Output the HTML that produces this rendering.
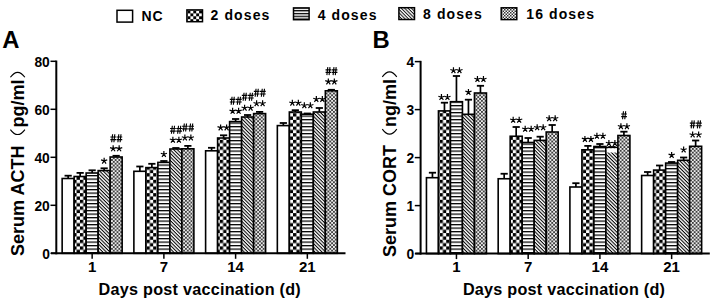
<!DOCTYPE html>
<html><head><meta charset="utf-8"><style>html,body{margin:0;padding:0;background:#fff;}svg{display:block;}</style></head>
<body><svg width="711" height="300" viewBox="0 0 711 300">
<defs><pattern id="pc" patternUnits="userSpaceOnUse" x="0" y="0" width="6.66" height="6.66"><rect width="6.66" height="6.66" fill="#fff"/><rect width="3.33" height="3.33" fill="#000"/><rect x="3.33" y="3.33" width="3.33" height="3.33" fill="#000"/></pattern><pattern id="ph" patternUnits="userSpaceOnUse" x="0" y="0" width="10" height="3.5"><rect width="10" height="3.5" fill="#fff"/><rect width="10" height="1.25" fill="#000"/></pattern><pattern id="pd" patternUnits="userSpaceOnUse" width="2.5" height="2.5" patternTransform="rotate(45)"><rect width="2.5" height="2.5" fill="#fff"/><rect width="2.5" height="1.05" fill="#000"/></pattern><pattern id="pf" patternUnits="userSpaceOnUse" width="3.7" height="3.7"><rect width="3.7" height="3.7" fill="#ececec"/><rect width="1.85" height="1.85" fill="#404040"/><rect x="1.85" y="1.85" width="1.85" height="1.85" fill="#404040"/></pattern><pattern id="lf" patternUnits="userSpaceOnUse" width="3" height="3"><rect width="3" height="3" fill="#fff"/><rect width="1.5" height="1.5" fill="#333"/><rect x="1.5" y="1.5" width="1.5" height="1.5" fill="#333"/></pattern><pattern id="ld" patternUnits="userSpaceOnUse" width="2.4" height="2.4" patternTransform="rotate(45)"><rect width="2.4" height="2.4" fill="#fff"/><rect width="2.4" height="1.0" fill="#111"/></pattern><pattern id="lc" patternUnits="userSpaceOnUse" width="5.8" height="5.8" x="187.5" y="10.5"><rect width="5.8" height="5.8" fill="#fff"/><rect width="2.9" height="2.9" fill="#000"/><rect x="2.9" y="2.9" width="2.9" height="2.9" fill="#000"/></pattern><pattern id="lh" patternUnits="userSpaceOnUse" width="10" height="2.8" y="7.3"><rect width="10" height="2.8" fill="#fff"/><rect width="10" height="1.3" fill="#000"/></pattern></defs>
<rect width="711" height="300" fill="#fff"/>
<text x="2.2" y="48.2" font-size="23.8" font-weight="bold" font-family="'Liberation Sans', sans-serif">A</text>
<line x1="68.15" y1="178.50" x2="68.15" y2="175.70" stroke="#000" stroke-width="1.7"/>
<line x1="64.55" y1="175.70" x2="71.75" y2="175.70" stroke="#000" stroke-width="1.8"/>
<rect x="62.15" y="178.50" width="12.00" height="74.80" fill="#fff" stroke="#000" stroke-width="1.6"/>
<line x1="80.15" y1="176.50" x2="80.15" y2="172.90" stroke="#000" stroke-width="1.7"/>
<line x1="76.55" y1="172.90" x2="83.75" y2="172.90" stroke="#000" stroke-width="1.8"/>
<rect x="74.15" y="176.50" width="12.00" height="76.80" fill="url(#pc)" stroke="#000" stroke-width="1.6"/>
<line x1="92.15" y1="173.00" x2="92.15" y2="170.30" stroke="#000" stroke-width="1.7"/>
<line x1="88.55" y1="170.30" x2="95.75" y2="170.30" stroke="#000" stroke-width="1.8"/>
<rect x="86.15" y="173.00" width="12.00" height="80.30" fill="url(#ph)" stroke="#000" stroke-width="1.6"/>
<line x1="104.15" y1="170.60" x2="104.15" y2="168.30" stroke="#000" stroke-width="1.7"/>
<line x1="100.55" y1="168.30" x2="107.75" y2="168.30" stroke="#000" stroke-width="1.8"/>
<rect x="98.15" y="170.60" width="12.00" height="82.70" fill="url(#pd)" stroke="#000" stroke-width="1.6"/>
<path d="M104.15 160.90L104.15 157.65M104.15 160.90L107.24 159.90M104.15 160.90L106.06 163.53M104.15 160.90L102.24 163.53M104.15 160.90L101.06 159.90" stroke="#000" stroke-width="1.2" stroke-linecap="butt" fill="none"/>
<line x1="116.15" y1="157.00" x2="116.15" y2="155.80" stroke="#000" stroke-width="1.7"/>
<line x1="112.55" y1="155.80" x2="119.75" y2="155.80" stroke="#000" stroke-width="1.8"/>
<rect x="110.15" y="157.00" width="12.00" height="96.30" fill="url(#pf)" stroke="#000" stroke-width="1.6"/>
<path d="M113.15 148.60L113.15 145.35M113.15 148.60L116.24 147.60M113.15 148.60L115.06 151.23M113.15 148.60L111.24 151.23M113.15 148.60L110.06 147.60" stroke="#000" stroke-width="1.2" stroke-linecap="butt" fill="none"/><path d="M119.15 148.60L119.15 145.35M119.15 148.60L122.24 147.60M119.15 148.60L121.06 151.23M119.15 148.60L117.24 151.23M119.15 148.60L116.06 147.60" stroke="#000" stroke-width="1.2" stroke-linecap="butt" fill="none"/>
<path d="M111.70 142.30L112.60 134.30M113.90 142.30L114.80 134.30M110.35 137.00L116.05 137.00M110.35 139.60L116.05 139.60M117.90 142.30L118.80 134.30M120.10 142.30L121.00 134.30M116.55 137.00L122.25 137.00M116.55 139.60L122.25 139.60" stroke="#000" stroke-width="1.15" fill="none"/>
<line x1="139.88" y1="171.30" x2="139.88" y2="166.50" stroke="#000" stroke-width="1.7"/>
<line x1="136.28" y1="166.50" x2="143.48" y2="166.50" stroke="#000" stroke-width="1.8"/>
<rect x="133.88" y="171.30" width="12.00" height="82.00" fill="#fff" stroke="#000" stroke-width="1.6"/>
<line x1="151.88" y1="167.60" x2="151.88" y2="163.80" stroke="#000" stroke-width="1.7"/>
<line x1="148.28" y1="163.80" x2="155.48" y2="163.80" stroke="#000" stroke-width="1.8"/>
<rect x="145.88" y="167.60" width="12.00" height="85.70" fill="url(#pc)" stroke="#000" stroke-width="1.6"/>
<line x1="163.88" y1="162.40" x2="163.88" y2="161.00" stroke="#000" stroke-width="1.7"/>
<line x1="160.28" y1="161.00" x2="167.48" y2="161.00" stroke="#000" stroke-width="1.8"/>
<rect x="157.88" y="162.40" width="12.00" height="90.90" fill="url(#ph)" stroke="#000" stroke-width="1.6"/>
<path d="M163.88 154.30L163.88 151.05M163.88 154.30L166.97 153.30M163.88 154.30L165.79 156.93M163.88 154.30L161.97 156.93M163.88 154.30L160.79 153.30" stroke="#000" stroke-width="1.2" stroke-linecap="butt" fill="none"/>
<line x1="175.88" y1="149.00" x2="175.88" y2="148.00" stroke="#000" stroke-width="1.7"/>
<line x1="172.28" y1="148.00" x2="179.48" y2="148.00" stroke="#000" stroke-width="1.8"/>
<rect x="169.88" y="149.00" width="12.00" height="104.30" fill="url(#pd)" stroke="#000" stroke-width="1.6"/>
<path d="M172.88 140.05L172.88 136.80M172.88 140.05L175.97 139.05M172.88 140.05L174.79 142.68M172.88 140.05L170.97 142.68M172.88 140.05L169.79 139.05" stroke="#000" stroke-width="1.2" stroke-linecap="butt" fill="none"/><path d="M178.88 140.05L178.88 136.80M178.88 140.05L181.97 139.05M178.88 140.05L180.79 142.68M178.88 140.05L176.97 142.68M178.88 140.05L175.79 139.05" stroke="#000" stroke-width="1.2" stroke-linecap="butt" fill="none"/>
<path d="M171.43 133.80L172.33 125.80M173.63 133.80L174.53 125.80M170.08 128.50L175.78 128.50M170.08 131.10L175.78 131.10M177.63 133.80L178.53 125.80M179.83 133.80L180.73 125.80M176.28 128.50L181.98 128.50M176.28 131.10L181.98 131.10" stroke="#000" stroke-width="1.15" fill="none"/>
<line x1="187.88" y1="148.80" x2="187.88" y2="145.90" stroke="#000" stroke-width="1.7"/>
<line x1="184.28" y1="145.90" x2="191.48" y2="145.90" stroke="#000" stroke-width="1.8"/>
<rect x="181.88" y="148.80" width="12.00" height="104.50" fill="url(#pf)" stroke="#000" stroke-width="1.6"/>
<path d="M184.88 137.80L184.88 134.55M184.88 137.80L187.97 136.80M184.88 137.80L186.79 140.43M184.88 137.80L182.97 140.43M184.88 137.80L181.79 136.80" stroke="#000" stroke-width="1.2" stroke-linecap="butt" fill="none"/><path d="M190.88 137.80L190.88 134.55M190.88 137.80L193.97 136.80M190.88 137.80L192.79 140.43M190.88 137.80L188.97 140.43M190.88 137.80L187.79 136.80" stroke="#000" stroke-width="1.2" stroke-linecap="butt" fill="none"/>
<path d="M183.43 131.50L184.33 123.50M185.63 131.50L186.53 123.50M182.08 126.20L187.78 126.20M182.08 128.80L187.78 128.80M189.63 131.50L190.53 123.50M191.83 131.50L192.73 123.50M188.28 126.20L193.98 126.20M188.28 128.80L193.98 128.80" stroke="#000" stroke-width="1.15" fill="none"/>
<line x1="211.61" y1="150.80" x2="211.61" y2="147.80" stroke="#000" stroke-width="1.7"/>
<line x1="208.01" y1="147.80" x2="215.21" y2="147.80" stroke="#000" stroke-width="1.8"/>
<rect x="205.61" y="150.80" width="12.00" height="102.50" fill="#fff" stroke="#000" stroke-width="1.6"/>
<line x1="223.61" y1="138.00" x2="223.61" y2="135.30" stroke="#000" stroke-width="1.7"/>
<line x1="220.01" y1="135.30" x2="227.21" y2="135.30" stroke="#000" stroke-width="1.8"/>
<rect x="217.61" y="138.00" width="12.00" height="115.30" fill="url(#pc)" stroke="#000" stroke-width="1.6"/>
<path d="M220.61 127.65L220.61 124.40M220.61 127.65L223.70 126.65M220.61 127.65L222.52 130.28M220.61 127.65L218.70 130.28M220.61 127.65L217.52 126.65" stroke="#000" stroke-width="1.2" stroke-linecap="butt" fill="none"/><path d="M226.61 127.65L226.61 124.40M226.61 127.65L229.70 126.65M226.61 127.65L228.52 130.28M226.61 127.65L224.70 130.28M226.61 127.65L223.52 126.65" stroke="#000" stroke-width="1.2" stroke-linecap="butt" fill="none"/>
<line x1="235.61" y1="121.60" x2="235.61" y2="119.00" stroke="#000" stroke-width="1.7"/>
<line x1="232.01" y1="119.00" x2="239.21" y2="119.00" stroke="#000" stroke-width="1.8"/>
<rect x="229.61" y="121.60" width="12.00" height="131.70" fill="url(#ph)" stroke="#000" stroke-width="1.6"/>
<path d="M232.61 111.10L232.61 107.85M232.61 111.10L235.70 110.10M232.61 111.10L234.52 113.73M232.61 111.10L230.70 113.73M232.61 111.10L229.52 110.10" stroke="#000" stroke-width="1.2" stroke-linecap="butt" fill="none"/><path d="M238.61 111.10L238.61 107.85M238.61 111.10L241.70 110.10M238.61 111.10L240.52 113.73M238.61 111.10L236.70 113.73M238.61 111.10L235.52 110.10" stroke="#000" stroke-width="1.2" stroke-linecap="butt" fill="none"/>
<path d="M231.16 104.70L232.06 96.70M233.36 104.70L234.26 96.70M229.81 99.40L235.51 99.40M229.81 102.00L235.51 102.00M237.36 104.70L238.26 96.70M239.56 104.70L240.46 96.70M236.01 99.40L241.71 99.40M236.01 102.00L241.71 102.00" stroke="#000" stroke-width="1.15" fill="none"/>
<line x1="247.61" y1="117.00" x2="247.61" y2="115.00" stroke="#000" stroke-width="1.7"/>
<line x1="244.01" y1="115.00" x2="251.21" y2="115.00" stroke="#000" stroke-width="1.8"/>
<rect x="241.61" y="117.00" width="12.00" height="136.30" fill="url(#pd)" stroke="#000" stroke-width="1.6"/>
<path d="M244.61 107.95L244.61 104.70M244.61 107.95L247.70 106.95M244.61 107.95L246.52 110.58M244.61 107.95L242.70 110.58M244.61 107.95L241.52 106.95" stroke="#000" stroke-width="1.2" stroke-linecap="butt" fill="none"/><path d="M250.61 107.95L250.61 104.70M250.61 107.95L253.70 106.95M250.61 107.95L252.52 110.58M250.61 107.95L248.70 110.58M250.61 107.95L247.52 106.95" stroke="#000" stroke-width="1.2" stroke-linecap="butt" fill="none"/>
<path d="M243.16 100.70L244.06 92.70M245.36 100.70L246.26 92.70M241.81 95.40L247.51 95.40M241.81 98.00L247.51 98.00M249.36 100.70L250.26 92.70M251.56 100.70L252.46 92.70M248.01 95.40L253.71 95.40M248.01 98.00L253.71 98.00" stroke="#000" stroke-width="1.15" fill="none"/>
<line x1="259.61" y1="113.60" x2="259.61" y2="111.90" stroke="#000" stroke-width="1.7"/>
<line x1="256.01" y1="111.90" x2="263.21" y2="111.90" stroke="#000" stroke-width="1.8"/>
<rect x="253.61" y="113.60" width="12.00" height="139.70" fill="url(#pf)" stroke="#000" stroke-width="1.6"/>
<path d="M256.61 103.50L256.61 100.25M256.61 103.50L259.70 102.50M256.61 103.50L258.52 106.13M256.61 103.50L254.70 106.13M256.61 103.50L253.52 102.50" stroke="#000" stroke-width="1.2" stroke-linecap="butt" fill="none"/><path d="M262.61 103.50L262.61 100.25M262.61 103.50L265.70 102.50M262.61 103.50L264.52 106.13M262.61 103.50L260.70 106.13M262.61 103.50L259.52 102.50" stroke="#000" stroke-width="1.2" stroke-linecap="butt" fill="none"/>
<path d="M255.16 96.70L256.06 88.70M257.36 96.70L258.26 88.70M253.81 91.40L259.51 91.40M253.81 94.00L259.51 94.00M261.36 96.70L262.26 88.70M263.56 96.70L264.46 88.70M260.01 91.40L265.71 91.40M260.01 94.00L265.71 94.00" stroke="#000" stroke-width="1.15" fill="none"/>
<line x1="283.34" y1="125.60" x2="283.34" y2="123.00" stroke="#000" stroke-width="1.7"/>
<line x1="279.74" y1="123.00" x2="286.94" y2="123.00" stroke="#000" stroke-width="1.8"/>
<rect x="277.34" y="125.60" width="12.00" height="127.70" fill="#fff" stroke="#000" stroke-width="1.6"/>
<line x1="295.34" y1="112.00" x2="295.34" y2="110.20" stroke="#000" stroke-width="1.7"/>
<line x1="291.74" y1="110.20" x2="298.94" y2="110.20" stroke="#000" stroke-width="1.8"/>
<rect x="289.34" y="112.00" width="12.00" height="141.30" fill="url(#pc)" stroke="#000" stroke-width="1.6"/>
<path d="M292.34 102.95L292.34 99.70M292.34 102.95L295.43 101.95M292.34 102.95L294.25 105.58M292.34 102.95L290.43 105.58M292.34 102.95L289.25 101.95" stroke="#000" stroke-width="1.2" stroke-linecap="butt" fill="none"/><path d="M298.34 102.95L298.34 99.70M298.34 102.95L301.43 101.95M298.34 102.95L300.25 105.58M298.34 102.95L296.43 105.58M298.34 102.95L295.25 101.95" stroke="#000" stroke-width="1.2" stroke-linecap="butt" fill="none"/>
<line x1="307.34" y1="114.20" x2="307.34" y2="113.50" stroke="#000" stroke-width="1.7"/>
<line x1="303.74" y1="113.50" x2="310.94" y2="113.50" stroke="#000" stroke-width="1.8"/>
<rect x="301.34" y="114.20" width="12.00" height="139.10" fill="url(#ph)" stroke="#000" stroke-width="1.6"/>
<path d="M304.34 105.55L304.34 102.30M304.34 105.55L307.43 104.55M304.34 105.55L306.25 108.18M304.34 105.55L302.43 108.18M304.34 105.55L301.25 104.55" stroke="#000" stroke-width="1.2" stroke-linecap="butt" fill="none"/><path d="M310.34 105.55L310.34 102.30M310.34 105.55L313.43 104.55M310.34 105.55L312.25 108.18M310.34 105.55L308.43 108.18M310.34 105.55L307.25 104.55" stroke="#000" stroke-width="1.2" stroke-linecap="butt" fill="none"/>
<line x1="319.34" y1="112.00" x2="319.34" y2="108.00" stroke="#000" stroke-width="1.7"/>
<line x1="315.74" y1="108.00" x2="322.94" y2="108.00" stroke="#000" stroke-width="1.8"/>
<rect x="313.34" y="112.00" width="12.00" height="141.30" fill="url(#pd)" stroke="#000" stroke-width="1.6"/>
<path d="M316.34 99.20L316.34 95.95M316.34 99.20L319.43 98.20M316.34 99.20L318.25 101.83M316.34 99.20L314.43 101.83M316.34 99.20L313.25 98.20" stroke="#000" stroke-width="1.2" stroke-linecap="butt" fill="none"/><path d="M322.34 99.20L322.34 95.95M322.34 99.20L325.43 98.20M322.34 99.20L324.25 101.83M322.34 99.20L320.43 101.83M322.34 99.20L319.25 98.20" stroke="#000" stroke-width="1.2" stroke-linecap="butt" fill="none"/>
<line x1="331.34" y1="90.80" x2="331.34" y2="89.80" stroke="#000" stroke-width="1.7"/>
<line x1="327.74" y1="89.80" x2="334.94" y2="89.80" stroke="#000" stroke-width="1.8"/>
<rect x="325.34" y="90.80" width="12.00" height="162.50" fill="url(#pf)" stroke="#000" stroke-width="1.6"/>
<path d="M328.34 81.65L328.34 78.40M328.34 81.65L331.43 80.65M328.34 81.65L330.25 84.28M328.34 81.65L326.43 84.28M328.34 81.65L325.25 80.65" stroke="#000" stroke-width="1.2" stroke-linecap="butt" fill="none"/><path d="M334.34 81.65L334.34 78.40M334.34 81.65L337.43 80.65M334.34 81.65L336.25 84.28M334.34 81.65L332.43 84.28M334.34 81.65L331.25 80.65" stroke="#000" stroke-width="1.2" stroke-linecap="butt" fill="none"/>
<path d="M326.89 75.10L327.79 67.10M329.09 75.10L329.99 67.10M325.54 69.80L331.24 69.80M325.54 72.40L331.24 72.40M333.09 75.10L333.99 67.10M335.29 75.10L336.19 67.10M331.74 69.80L337.44 69.80M331.74 72.40L337.44 72.40" stroke="#000" stroke-width="1.15" fill="none"/>
<line x1="56.30" y1="60.55" x2="56.30" y2="254.30" stroke="#000" stroke-width="2"/>
<line x1="51.00" y1="253.30" x2="345.50" y2="253.30" stroke="#000" stroke-width="2"/>
<line x1="50.50" y1="253.30" x2="56.30" y2="253.30" stroke="#000" stroke-width="1.5"/>
<text transform="translate(49.80,258.60) scale(0.92,1)" x="0" y="0" font-size="15" font-weight="bold" text-anchor="end" font-family="'Liberation Sans', sans-serif">0</text>
<line x1="50.50" y1="205.30" x2="56.30" y2="205.30" stroke="#000" stroke-width="1.5"/>
<text transform="translate(49.80,210.60) scale(0.92,1)" x="0" y="0" font-size="15" font-weight="bold" text-anchor="end" font-family="'Liberation Sans', sans-serif">20</text>
<line x1="50.50" y1="157.30" x2="56.30" y2="157.30" stroke="#000" stroke-width="1.5"/>
<text transform="translate(49.80,162.60) scale(0.92,1)" x="0" y="0" font-size="15" font-weight="bold" text-anchor="end" font-family="'Liberation Sans', sans-serif">40</text>
<line x1="50.50" y1="109.30" x2="56.30" y2="109.30" stroke="#000" stroke-width="1.5"/>
<text transform="translate(49.80,114.60) scale(0.92,1)" x="0" y="0" font-size="15" font-weight="bold" text-anchor="end" font-family="'Liberation Sans', sans-serif">60</text>
<line x1="50.50" y1="61.30" x2="56.30" y2="61.30" stroke="#000" stroke-width="1.5"/>
<text transform="translate(49.80,66.60) scale(0.92,1)" x="0" y="0" font-size="15" font-weight="bold" text-anchor="end" font-family="'Liberation Sans', sans-serif">80</text>
<line x1="92.15" y1="253.30" x2="92.15" y2="258.80" stroke="#000" stroke-width="1.5"/>
<text x="92.15" y="272.4" font-size="15" font-weight="bold" text-anchor="middle" font-family="'Liberation Sans', sans-serif">1</text>
<line x1="163.88" y1="253.30" x2="163.88" y2="258.80" stroke="#000" stroke-width="1.5"/>
<text x="163.88" y="272.4" font-size="15" font-weight="bold" text-anchor="middle" font-family="'Liberation Sans', sans-serif">7</text>
<line x1="235.61" y1="253.30" x2="235.61" y2="258.80" stroke="#000" stroke-width="1.5"/>
<text x="235.61" y="272.4" font-size="15" font-weight="bold" text-anchor="middle" font-family="'Liberation Sans', sans-serif">14</text>
<line x1="307.34" y1="253.30" x2="307.34" y2="258.80" stroke="#000" stroke-width="1.5"/>
<text x="307.34" y="272.4" font-size="15" font-weight="bold" text-anchor="middle" font-family="'Liberation Sans', sans-serif">21</text>
<text x="98.60" y="295" font-size="16.2" letter-spacing="0.25" font-weight="bold" font-family="'Liberation Sans', sans-serif">Days post vaccination (d)</text>
<g transform="translate(24.40,255.90) rotate(-90)">
<text x="0" y="0" font-size="18" font-weight="bold" font-family="'Liberation Sans', sans-serif">Serum ACTH</text>
<path d="M126.34 -14 Q116.34 -6.75 126.34 0.5" stroke="#000" stroke-width="1.1" fill="none"/>
<text x="128.34" y="0" font-size="18" font-weight="bold" font-family="'Liberation Sans', sans-serif">pg/ml</text>
<path d="M178.64 -14 Q188.44 -6.75 178.64 0.5" stroke="#000" stroke-width="1.1" fill="none"/>
</g>
<text x="372.4" y="48.2" font-size="23.8" font-weight="bold" font-family="'Liberation Sans', sans-serif">B</text>
<line x1="432.45" y1="177.70" x2="432.45" y2="172.70" stroke="#000" stroke-width="1.7"/>
<line x1="428.85" y1="172.70" x2="436.05" y2="172.70" stroke="#000" stroke-width="1.8"/>
<rect x="426.45" y="177.70" width="12.00" height="75.90" fill="#fff" stroke="#000" stroke-width="1.6"/>
<line x1="444.45" y1="110.90" x2="444.45" y2="102.70" stroke="#000" stroke-width="1.7"/>
<line x1="440.85" y1="102.70" x2="448.05" y2="102.70" stroke="#000" stroke-width="1.8"/>
<rect x="438.45" y="110.90" width="12.00" height="142.70" fill="url(#pc)" stroke="#000" stroke-width="1.6"/>
<path d="M441.45 97.25L441.45 94.00M441.45 97.25L444.54 96.25M441.45 97.25L443.36 99.88M441.45 97.25L439.54 99.88M441.45 97.25L438.36 96.25" stroke="#000" stroke-width="1.2" stroke-linecap="butt" fill="none"/><path d="M447.45 97.25L447.45 94.00M447.45 97.25L450.54 96.25M447.45 97.25L449.36 99.88M447.45 97.25L445.54 99.88M447.45 97.25L444.36 96.25" stroke="#000" stroke-width="1.2" stroke-linecap="butt" fill="none"/>
<line x1="456.45" y1="101.70" x2="456.45" y2="76.00" stroke="#000" stroke-width="1.7"/>
<line x1="452.85" y1="76.00" x2="460.05" y2="76.00" stroke="#000" stroke-width="1.8"/>
<rect x="450.45" y="101.70" width="12.00" height="151.90" fill="url(#ph)" stroke="#000" stroke-width="1.6"/>
<path d="M453.45 70.45L453.45 67.20M453.45 70.45L456.54 69.45M453.45 70.45L455.36 73.08M453.45 70.45L451.54 73.08M453.45 70.45L450.36 69.45" stroke="#000" stroke-width="1.2" stroke-linecap="butt" fill="none"/><path d="M459.45 70.45L459.45 67.20M459.45 70.45L462.54 69.45M459.45 70.45L461.36 73.08M459.45 70.45L457.54 73.08M459.45 70.45L456.36 69.45" stroke="#000" stroke-width="1.2" stroke-linecap="butt" fill="none"/>
<line x1="468.45" y1="114.30" x2="468.45" y2="99.70" stroke="#000" stroke-width="1.7"/>
<line x1="464.85" y1="99.70" x2="472.05" y2="99.70" stroke="#000" stroke-width="1.8"/>
<rect x="462.45" y="114.30" width="12.00" height="139.30" fill="url(#pd)" stroke="#000" stroke-width="1.6"/>
<path d="M468.45 92.15L468.45 88.90M468.45 92.15L471.54 91.15M468.45 92.15L470.36 94.78M468.45 92.15L466.54 94.78M468.45 92.15L465.36 91.15" stroke="#000" stroke-width="1.2" stroke-linecap="butt" fill="none"/>
<line x1="480.45" y1="93.00" x2="480.45" y2="85.80" stroke="#000" stroke-width="1.7"/>
<line x1="476.85" y1="85.80" x2="484.05" y2="85.80" stroke="#000" stroke-width="1.8"/>
<rect x="474.45" y="93.00" width="12.00" height="160.60" fill="url(#pf)" stroke="#000" stroke-width="1.6"/>
<path d="M477.45 79.20L477.45 75.95M477.45 79.20L480.54 78.20M477.45 79.20L479.36 81.83M477.45 79.20L475.54 81.83M477.45 79.20L474.36 78.20" stroke="#000" stroke-width="1.2" stroke-linecap="butt" fill="none"/><path d="M483.45 79.20L483.45 75.95M483.45 79.20L486.54 78.20M483.45 79.20L485.36 81.83M483.45 79.20L481.54 81.83M483.45 79.20L480.36 78.20" stroke="#000" stroke-width="1.2" stroke-linecap="butt" fill="none"/>
<line x1="504.18" y1="178.75" x2="504.18" y2="173.75" stroke="#000" stroke-width="1.7"/>
<line x1="500.58" y1="173.75" x2="507.78" y2="173.75" stroke="#000" stroke-width="1.8"/>
<rect x="498.18" y="178.75" width="12.00" height="74.85" fill="#fff" stroke="#000" stroke-width="1.6"/>
<line x1="516.18" y1="136.25" x2="516.18" y2="127.00" stroke="#000" stroke-width="1.7"/>
<line x1="512.58" y1="127.00" x2="519.78" y2="127.00" stroke="#000" stroke-width="1.8"/>
<rect x="510.18" y="136.25" width="12.00" height="117.35" fill="url(#pc)" stroke="#000" stroke-width="1.6"/>
<path d="M513.18 120.05L513.18 116.80M513.18 120.05L516.27 119.05M513.18 120.05L515.09 122.68M513.18 120.05L511.27 122.68M513.18 120.05L510.09 119.05" stroke="#000" stroke-width="1.2" stroke-linecap="butt" fill="none"/><path d="M519.18 120.05L519.18 116.80M519.18 120.05L522.27 119.05M519.18 120.05L521.09 122.68M519.18 120.05L517.27 122.68M519.18 120.05L516.09 119.05" stroke="#000" stroke-width="1.2" stroke-linecap="butt" fill="none"/>
<line x1="528.18" y1="142.50" x2="528.18" y2="138.00" stroke="#000" stroke-width="1.7"/>
<line x1="524.58" y1="138.00" x2="531.78" y2="138.00" stroke="#000" stroke-width="1.8"/>
<rect x="522.18" y="142.50" width="12.00" height="111.10" fill="url(#ph)" stroke="#000" stroke-width="1.6"/>
<path d="M525.18 129.05L525.18 125.80M525.18 129.05L528.27 128.05M525.18 129.05L527.09 131.68M525.18 129.05L523.27 131.68M525.18 129.05L522.09 128.05" stroke="#000" stroke-width="1.2" stroke-linecap="butt" fill="none"/><path d="M531.18 129.05L531.18 125.80M531.18 129.05L534.27 128.05M531.18 129.05L533.09 131.68M531.18 129.05L529.27 131.68M531.18 129.05L528.09 128.05" stroke="#000" stroke-width="1.2" stroke-linecap="butt" fill="none"/>
<line x1="540.18" y1="140.40" x2="540.18" y2="136.70" stroke="#000" stroke-width="1.7"/>
<line x1="536.58" y1="136.70" x2="543.78" y2="136.70" stroke="#000" stroke-width="1.8"/>
<rect x="534.18" y="140.40" width="12.00" height="113.20" fill="url(#pd)" stroke="#000" stroke-width="1.6"/>
<path d="M537.18 127.55L537.18 124.30M537.18 127.55L540.27 126.55M537.18 127.55L539.09 130.18M537.18 127.55L535.27 130.18M537.18 127.55L534.09 126.55" stroke="#000" stroke-width="1.2" stroke-linecap="butt" fill="none"/><path d="M543.18 127.55L543.18 124.30M543.18 127.55L546.27 126.55M543.18 127.55L545.09 130.18M543.18 127.55L541.27 130.18M543.18 127.55L540.09 126.55" stroke="#000" stroke-width="1.2" stroke-linecap="butt" fill="none"/>
<line x1="552.18" y1="132.00" x2="552.18" y2="125.00" stroke="#000" stroke-width="1.7"/>
<line x1="548.58" y1="125.00" x2="555.78" y2="125.00" stroke="#000" stroke-width="1.8"/>
<rect x="546.18" y="132.00" width="12.00" height="121.60" fill="url(#pf)" stroke="#000" stroke-width="1.6"/>
<path d="M549.18 118.55L549.18 115.30M549.18 118.55L552.27 117.55M549.18 118.55L551.09 121.18M549.18 118.55L547.27 121.18M549.18 118.55L546.09 117.55" stroke="#000" stroke-width="1.2" stroke-linecap="butt" fill="none"/><path d="M555.18 118.55L555.18 115.30M555.18 118.55L558.27 117.55M555.18 118.55L557.09 121.18M555.18 118.55L553.27 121.18M555.18 118.55L552.09 117.55" stroke="#000" stroke-width="1.2" stroke-linecap="butt" fill="none"/>
<line x1="575.91" y1="187.00" x2="575.91" y2="183.20" stroke="#000" stroke-width="1.7"/>
<line x1="572.31" y1="183.20" x2="579.51" y2="183.20" stroke="#000" stroke-width="1.8"/>
<rect x="569.91" y="187.00" width="12.00" height="66.60" fill="#fff" stroke="#000" stroke-width="1.6"/>
<line x1="587.91" y1="149.80" x2="587.91" y2="145.90" stroke="#000" stroke-width="1.7"/>
<line x1="584.31" y1="145.90" x2="591.51" y2="145.90" stroke="#000" stroke-width="1.8"/>
<rect x="581.91" y="149.80" width="12.00" height="103.80" fill="url(#pc)" stroke="#000" stroke-width="1.6"/>
<path d="M584.91 139.15L584.91 135.90M584.91 139.15L588.00 138.15M584.91 139.15L586.82 141.78M584.91 139.15L583.00 141.78M584.91 139.15L581.82 138.15" stroke="#000" stroke-width="1.2" stroke-linecap="butt" fill="none"/><path d="M590.91 139.15L590.91 135.90M590.91 139.15L594.00 138.15M590.91 139.15L592.82 141.78M590.91 139.15L589.00 141.78M590.91 139.15L587.82 138.15" stroke="#000" stroke-width="1.2" stroke-linecap="butt" fill="none"/>
<line x1="599.91" y1="146.50" x2="599.91" y2="144.00" stroke="#000" stroke-width="1.7"/>
<line x1="596.31" y1="144.00" x2="603.51" y2="144.00" stroke="#000" stroke-width="1.8"/>
<rect x="593.91" y="146.50" width="12.00" height="107.10" fill="url(#ph)" stroke="#000" stroke-width="1.6"/>
<path d="M596.91 136.05L596.91 132.80M596.91 136.05L600.00 135.05M596.91 136.05L598.82 138.68M596.91 136.05L595.00 138.68M596.91 136.05L593.82 135.05" stroke="#000" stroke-width="1.2" stroke-linecap="butt" fill="none"/><path d="M602.91 136.05L602.91 132.80M602.91 136.05L606.00 135.05M602.91 136.05L604.82 138.68M602.91 136.05L601.00 138.68M602.91 136.05L599.82 135.05" stroke="#000" stroke-width="1.2" stroke-linecap="butt" fill="none"/>
<line x1="611.91" y1="147.50" x2="611.91" y2="147.00" stroke="#000" stroke-width="1.7"/>
<line x1="608.31" y1="147.00" x2="615.51" y2="147.00" stroke="#000" stroke-width="1.8"/>
<rect x="605.91" y="147.50" width="12.00" height="106.10" fill="url(#pd)" stroke="#000" stroke-width="1.6"/>
<rect x="606.71" y="148.30" width="10.40" height="4.20" fill="#fff"/>
<path d="M608.91 143.30L608.91 140.05M608.91 143.30L612.00 142.30M608.91 143.30L610.82 145.93M608.91 143.30L607.00 145.93M608.91 143.30L605.82 142.30" stroke="#000" stroke-width="1.2" stroke-linecap="butt" fill="none"/><path d="M614.91 143.30L614.91 140.05M614.91 143.30L618.00 142.30M614.91 143.30L616.82 145.93M614.91 143.30L613.00 145.93M614.91 143.30L611.82 142.30" stroke="#000" stroke-width="1.2" stroke-linecap="butt" fill="none"/>
<line x1="623.91" y1="135.50" x2="623.91" y2="131.70" stroke="#000" stroke-width="1.7"/>
<line x1="620.31" y1="131.70" x2="627.51" y2="131.70" stroke="#000" stroke-width="1.8"/>
<rect x="617.91" y="135.50" width="12.00" height="118.10" fill="url(#pf)" stroke="#000" stroke-width="1.6"/>
<path d="M620.91 126.45L620.91 123.20M620.91 126.45L624.00 125.45M620.91 126.45L622.82 129.08M620.91 126.45L619.00 129.08M620.91 126.45L617.82 125.45" stroke="#000" stroke-width="1.2" stroke-linecap="butt" fill="none"/><path d="M626.91 126.45L626.91 123.20M626.91 126.45L630.00 125.45M626.91 126.45L628.82 129.08M626.91 126.45L625.00 129.08M626.91 126.45L623.82 125.45" stroke="#000" stroke-width="1.2" stroke-linecap="butt" fill="none"/>
<path d="M622.56 119.30L623.46 111.30M624.76 119.30L625.66 111.30M621.21 114.00L626.91 114.00M621.21 116.60L626.91 116.60" stroke="#000" stroke-width="1.15" fill="none"/>
<line x1="647.64" y1="175.50" x2="647.64" y2="172.00" stroke="#000" stroke-width="1.7"/>
<line x1="644.04" y1="172.00" x2="651.24" y2="172.00" stroke="#000" stroke-width="1.8"/>
<rect x="641.64" y="175.50" width="12.00" height="78.10" fill="#fff" stroke="#000" stroke-width="1.6"/>
<line x1="659.64" y1="170.10" x2="659.64" y2="165.50" stroke="#000" stroke-width="1.7"/>
<line x1="656.04" y1="165.50" x2="663.24" y2="165.50" stroke="#000" stroke-width="1.8"/>
<rect x="653.64" y="170.10" width="12.00" height="83.50" fill="url(#pc)" stroke="#000" stroke-width="1.6"/>
<line x1="671.64" y1="163.10" x2="671.64" y2="162.00" stroke="#000" stroke-width="1.7"/>
<line x1="668.04" y1="162.00" x2="675.24" y2="162.00" stroke="#000" stroke-width="1.8"/>
<rect x="665.64" y="163.10" width="12.00" height="90.50" fill="url(#ph)" stroke="#000" stroke-width="1.6"/>
<path d="M671.64 155.15L671.64 151.90M671.64 155.15L674.73 154.15M671.64 155.15L673.55 157.78M671.64 155.15L669.73 157.78M671.64 155.15L668.55 154.15" stroke="#000" stroke-width="1.2" stroke-linecap="butt" fill="none"/>
<line x1="683.64" y1="160.30" x2="683.64" y2="157.50" stroke="#000" stroke-width="1.7"/>
<line x1="680.04" y1="157.50" x2="687.24" y2="157.50" stroke="#000" stroke-width="1.8"/>
<rect x="677.64" y="160.30" width="12.00" height="93.30" fill="url(#pd)" stroke="#000" stroke-width="1.6"/>
<path d="M683.64 149.80L683.64 146.55M683.64 149.80L686.73 148.80M683.64 149.80L685.55 152.43M683.64 149.80L681.73 152.43M683.64 149.80L680.55 148.80" stroke="#000" stroke-width="1.2" stroke-linecap="butt" fill="none"/>
<line x1="695.64" y1="146.30" x2="695.64" y2="140.50" stroke="#000" stroke-width="1.7"/>
<line x1="692.04" y1="140.50" x2="699.24" y2="140.50" stroke="#000" stroke-width="1.8"/>
<rect x="689.64" y="146.30" width="12.00" height="107.30" fill="url(#pf)" stroke="#000" stroke-width="1.6"/>
<path d="M692.64 134.75L692.64 131.50M692.64 134.75L695.73 133.75M692.64 134.75L694.55 137.38M692.64 134.75L690.73 137.38M692.64 134.75L689.55 133.75" stroke="#000" stroke-width="1.2" stroke-linecap="butt" fill="none"/><path d="M698.64 134.75L698.64 131.50M698.64 134.75L701.73 133.75M698.64 134.75L700.55 137.38M698.64 134.75L696.73 137.38M698.64 134.75L695.55 133.75" stroke="#000" stroke-width="1.2" stroke-linecap="butt" fill="none"/>
<path d="M691.19 128.40L692.09 120.40M693.39 128.40L694.29 120.40M689.84 123.10L695.54 123.10M689.84 125.70L695.54 125.70M697.39 128.40L698.29 120.40M699.59 128.40L700.49 120.40M696.04 123.10L701.74 123.10M696.04 125.70L701.74 125.70" stroke="#000" stroke-width="1.15" fill="none"/>
<line x1="420.60" y1="60.85" x2="420.60" y2="254.60" stroke="#000" stroke-width="2"/>
<line x1="415.30" y1="253.60" x2="709.80" y2="253.60" stroke="#000" stroke-width="2"/>
<line x1="414.80" y1="253.60" x2="420.60" y2="253.60" stroke="#000" stroke-width="1.5"/>
<text transform="translate(414.10,258.90) scale(0.92,1)" x="0" y="0" font-size="15" font-weight="bold" text-anchor="end" font-family="'Liberation Sans', sans-serif">0</text>
<line x1="414.80" y1="205.60" x2="420.60" y2="205.60" stroke="#000" stroke-width="1.5"/>
<text transform="translate(414.10,210.90) scale(0.92,1)" x="0" y="0" font-size="15" font-weight="bold" text-anchor="end" font-family="'Liberation Sans', sans-serif">1</text>
<line x1="414.80" y1="157.60" x2="420.60" y2="157.60" stroke="#000" stroke-width="1.5"/>
<text transform="translate(414.10,162.90) scale(0.92,1)" x="0" y="0" font-size="15" font-weight="bold" text-anchor="end" font-family="'Liberation Sans', sans-serif">2</text>
<line x1="414.80" y1="109.60" x2="420.60" y2="109.60" stroke="#000" stroke-width="1.5"/>
<text transform="translate(414.10,114.90) scale(0.92,1)" x="0" y="0" font-size="15" font-weight="bold" text-anchor="end" font-family="'Liberation Sans', sans-serif">3</text>
<line x1="414.80" y1="61.60" x2="420.60" y2="61.60" stroke="#000" stroke-width="1.5"/>
<text transform="translate(414.10,66.90) scale(0.92,1)" x="0" y="0" font-size="15" font-weight="bold" text-anchor="end" font-family="'Liberation Sans', sans-serif">4</text>
<line x1="456.45" y1="253.60" x2="456.45" y2="259.10" stroke="#000" stroke-width="1.5"/>
<text x="456.45" y="272.4" font-size="15" font-weight="bold" text-anchor="middle" font-family="'Liberation Sans', sans-serif">1</text>
<line x1="528.18" y1="253.60" x2="528.18" y2="259.10" stroke="#000" stroke-width="1.5"/>
<text x="528.18" y="272.4" font-size="15" font-weight="bold" text-anchor="middle" font-family="'Liberation Sans', sans-serif">7</text>
<line x1="599.91" y1="253.60" x2="599.91" y2="259.10" stroke="#000" stroke-width="1.5"/>
<text x="599.91" y="272.4" font-size="15" font-weight="bold" text-anchor="middle" font-family="'Liberation Sans', sans-serif">14</text>
<line x1="671.64" y1="253.60" x2="671.64" y2="259.10" stroke="#000" stroke-width="1.5"/>
<text x="671.64" y="272.4" font-size="15" font-weight="bold" text-anchor="middle" font-family="'Liberation Sans', sans-serif">21</text>
<text x="462.90" y="295" font-size="16.2" letter-spacing="0.25" font-weight="bold" font-family="'Liberation Sans', sans-serif">Days post vaccination (d)</text>
<g transform="translate(396.30,257.10) rotate(-90)">
<text x="0" y="0" font-size="18" font-weight="bold" font-family="'Liberation Sans', sans-serif">Serum CORT</text>
<path d="M128.00 -14 Q118.00 -6.75 128.00 0.5" stroke="#000" stroke-width="1.1" fill="none"/>
<text x="130.00" y="0" font-size="18" font-weight="bold" font-family="'Liberation Sans', sans-serif">ng/ml</text>
<path d="M180.30 -14 Q190.10 -6.75 180.30 0.5" stroke="#000" stroke-width="1.1" fill="none"/>
</g>
<rect x="117.00" y="10.30" width="15.6" height="11.8" fill="#fff" stroke="#000" stroke-width="1.5"/>
<text x="141.40" y="20.80" font-size="14" letter-spacing="1.1" font-weight="bold" font-family="'Liberation Sans', sans-serif">NC</text>
<rect x="186.90" y="9.90" width="15.6" height="11.8" fill="url(#lc)" stroke="#000" stroke-width="1.5"/>
<text x="210.60" y="19.90" font-size="14" letter-spacing="1.1" font-weight="bold" font-family="'Liberation Sans', sans-serif">2 doses</text>
<rect x="293.50" y="7.90" width="15.6" height="11.8" fill="url(#lh)" stroke="#000" stroke-width="1.5"/>
<text x="317.70" y="19.60" font-size="14" letter-spacing="1.1" font-weight="bold" font-family="'Liberation Sans', sans-serif">4 doses</text>
<rect x="398.90" y="7.70" width="15.6" height="11.8" fill="url(#ld)" stroke="#000" stroke-width="1.5"/>
<text x="423.00" y="19.10" font-size="14" letter-spacing="1.1" font-weight="bold" font-family="'Liberation Sans', sans-serif">8 doses</text>
<rect x="501.20" y="7.80" width="15.6" height="11.8" fill="url(#lf)" stroke="#000" stroke-width="1.5"/>
<text x="526.30" y="18.80" font-size="14" letter-spacing="1.1" font-weight="bold" font-family="'Liberation Sans', sans-serif">16 doses</text>
</svg></body></html>
